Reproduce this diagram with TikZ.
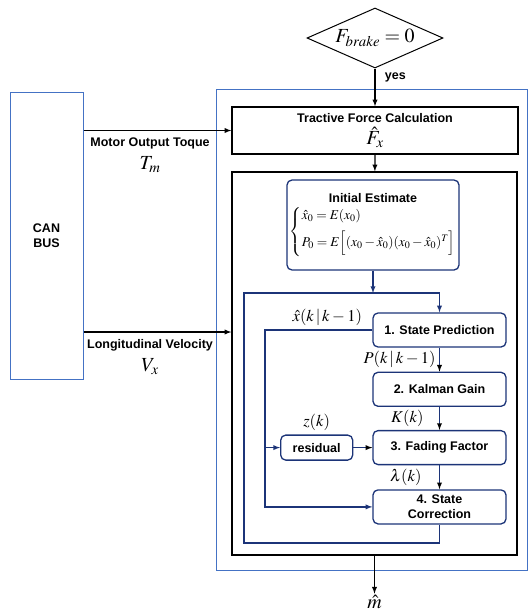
\documentclass[tikz,border=0pt]{standalone}
\usepackage{amsmath}
\usepackage{mathptmx}
\usepackage[no-math]{fontspec}
\setmainfont{Liberation Serif}
\setsansfont{Liberation Sans}
\usepackage{tikz}
\usetikzlibrary{shapes,arrows}
\usetikzlibrary{positioning,fit,calc}

\definecolor{canBlue}{RGB}{68,114,196}
\definecolor{kfNavy}{RGB}{28,52,120}

\begin{document}
\begin{tikzpicture}[x=1pt,y=-1pt,every text node part/.style={align=center}]
\tikzset{myFont/.style={font=\fontsize{12.5}{14.5}\selectfont\sffamily\bfseries}}
\tikzset{bigMath/.style={font=\fontsize{20}{22}\selectfont}}
\tikzset{midMath/.style={font=\fontsize{16.5}{18}\selectfont}}
\tikzset{myBox/.style={draw,line width=1.3pt,myFont,inner sep=0pt}}
\tikzset{kfBox/.style={draw=kfNavy,line width=1.3pt,rounded corners=5pt,myFont,minimum width=133pt,minimum height=34pt,inner sep=2pt}}
\tikzset{kfLine/.style={draw=kfNavy,line width=1.3pt,-latex}}
\tikzset{myArrow/.style={draw,line width=1.3pt,-latex}}

\useasboundingbox (0,0) rectangle (529,616);

\node[draw=canBlue,line width=1pt,myFont,minimum width=73pt,minimum height=287pt] (can) at (46.5,235.5) {CAN\\BUS};
\node[draw=canBlue,line width=1pt,minimum width=311pt,minimum height=481pt] (ecu) at (371.5,329.5) {};
\node[draw,diamond,aspect=2.3,line width=1pt,minimum width=136pt,minimum height=60pt,inner sep=0pt,bigMath] (brake) at (375,38) {$F_{brake}=0$};
\node[myBox,minimum width=286pt,minimum height=47pt] (force) at (375,130.5) {Tractive Force Calculation\\[3pt]{\fontsize{20}{20}\selectfont$\hat{F}_x$}};
\node[myBox,minimum width=285pt,minimum height=383pt] (filter) at (374.5,363.5) {};

% kalman loop
\node[kfBox,minimum width=172pt,minimum height=90pt] (init) at (373,225) {Initial Estimate\\[4pt] {\mdseries\fontsize{13.5}{15}\selectfont $\left\{\begin{array}{@{}l@{}}\hat{x}_0=E(x_0)\\[7pt] P_0=E\Big[(x_0-\hat{x}_0)(x_0-\hat{x}_0)^T\Big]\end{array}\right.$}};
\node[kfBox] (pred) at (439.5,330) {1. State Prediction};
\node[kfBox,below=24pt of pred] (gain) {2. Kalman Gain};
\node[kfBox,below=23pt of gain] (fade) {3. Fading Factor};
\node[kfBox,below=24pt of fade] (corr) {4. State\\Correction};
\node[kfBox,minimum width=72pt,minimum height=25pt,left=19pt of fade] (resid) {residual};
\node[above=0pt of resid,midMath] (zLbl) {$z(k)$};

\coordinate (loopTL) at (244,293);
\coordinate (loopBL) at (244,543);
\coordinate (xTap) at (265,330);
\coordinate (velOut) at ($(can.east)+(0,96.5)$);

\path[myArrow] (brake) edge node[right=6pt,pos=0.23,myFont]{yes} (force);
\path[myArrow] (force) edge (filter);
\draw[myArrow] (force.west -| can.east) -- node[below=3pt,pos=0.45,myFont] (torqueLbl) {Motor Output Toque} (force.west);
\node[below=0pt of torqueLbl,bigMath] (tmLbl) {$T_m$};
\draw[myArrow] (velOut) -- node[below=3pt,pos=0.45,myFont] (velLbl) {Longitudinal Velocity} (velOut -| filter.west);
\node[below=0pt of velLbl,bigMath] (vxLbl) {$V_x$};

\draw[kfLine] (init) -- (init.south |- loopTL);
\draw[kfLine] (corr.south) |- (loopBL) -- (loopTL) -| (pred.north);
\path[kfLine] (pred) edge node[left,midMath]{$P(k\,|\,k-1)$} (gain);
\path[kfLine] (gain) edge node[left=12pt,midMath]{$K(k)$} (fade);
\path[kfLine] (fade) edge node[left=14pt,midMath]{$\lambda(k)$} (corr);
\path[kfLine] (resid) edge (fade);
\draw[kfLine] (pred.west) -- node[above,pos=0.42,midMath]{$\hat{x}(k\,|\,k-1)$} (pred.west -| xTap) |- (corr.west);
\draw[kfLine] (resid.west -| xTap) -- (resid.west);

\node[below=38pt of filter,bigMath,inner sep=1pt] (mhat) {$\hat{m}$};
\path[myArrow] (filter) edge (mhat);

\end{tikzpicture}
\end{document}
